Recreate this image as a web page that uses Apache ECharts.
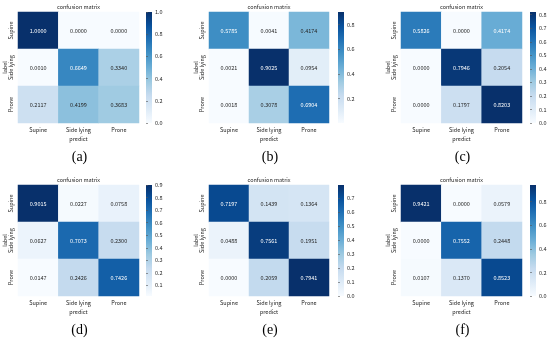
<!DOCTYPE html>
<html><head><meta charset="utf-8">
<script src="https://cdn.jsdelivr.net/npm/echarts@6/dist/echarts.min.js"></script>
<style>html,body{margin:0;padding:0;background:#fff}#c{width:550px;height:341px}</style>
</head><body><div id="c"></div>
<script>
var categories = ["Supine", "Side lying", "Prone"];
var captions = ["(a)", "(b)", "(c)", "(d)", "(e)", "(f)"];
var matA = [[1.0000, 0.0000, 0.0000], [0.0010, 0.6649, 0.3340], [0.2117, 0.4199, 0.3683]];
var matB = [[0.5785, 0.0041, 0.4174], [0.0021, 0.9025, 0.0954], [0.0018, 0.3078, 0.6904]];
var matC = [[0.5826, 0.0000, 0.4174], [0.0000, 0.7946, 0.2054], [0.0000, 0.1797, 0.8203]];
var matD = [[0.9015, 0.0227, 0.0758], [0.0627, 0.7073, 0.2300], [0.0147, 0.2426, 0.7426]];
var matE = [[0.7197, 0.1439, 0.1364], [0.0488, 0.7561, 0.1951], [0.0000, 0.2059, 0.7941]];
var matF = [[0.9421, 0.0000, 0.0579], [0.0000, 0.7552, 0.2448], [0.0107, 0.1370, 0.8523]];
var ticksA = [0.0, 0.2, 0.4, 0.6, 0.8, 1.0];
var ticksB = [0.2, 0.4, 0.6, 0.8];
var ticksC = [0.0, 0.1, 0.2, 0.3, 0.4, 0.5, 0.6, 0.7, 0.8];
var ticksD = [0.1, 0.2, 0.3, 0.4, 0.5, 0.6, 0.7, 0.8, 0.9];
var ticksE = [0.0, 0.1, 0.2, 0.3, 0.4, 0.5, 0.6, 0.7];
var ticksF = [0.0, 0.2, 0.4, 0.6, 0.8];

var mats = [matA, matB, matC, matD, matE, matF];
var ticks = [ticksA, ticksB, ticksC, ticksD, ticksE, ticksF];
var blues = ['#f7fbff', '#deebf7', '#c6dbef', '#9ecae1', '#6baed6', '#4292c6', '#2171b5', '#08519c', '#08306b'];

// layout (pixels)
var panels = [
  {l: 18, t: 12, w: 121, h: 111, cb: 146},
  {l: 209, t: 12, w: 120, h: 111, cb: 338},
  {l: 401, t: 12, w: 121, h: 111, cb: 530},
  {l: 18, t: 185, w: 121, h: 111, cb: 146},
  {l: 209, t: 185, w: 120, h: 111, cb: 338},
  {l: 401, t: 185, w: 121, h: 111, cb: 530}
];
var capY = [157, 157, 157, 330, 330, 330];
var FONT = '"Noto Sans CJK SC", sans-serif';
var FS = 5.5;

function hex2rgb(h) { return [parseInt(h.substr(1,2),16), parseInt(h.substr(3,2),16), parseInt(h.substr(5,2),16)]; }
function cmap(t) {
  t = Math.max(0, Math.min(1, t));
  var p = t * (blues.length - 1), i = Math.min(Math.floor(p), blues.length - 2), f = p - i;
  var a = hex2rgb(blues[i]), b = hex2rgb(blues[i+1]);
  return [0,1,2].map(function(k){ return a[k] + (b[k]-a[k]) * f; });
}
function lum(rgb) {
  var c = rgb.map(function(v){ v /= 255; return v <= 0.03928 ? v/12.92 : Math.pow((v+0.055)/1.055, 2.4); });
  return 0.2126*c[0] + 0.7152*c[1] + 0.0722*c[2];
}
var gradStops = blues.map(function(c, i){ return {offset: i / (blues.length - 1), color: c}; });

var grid = [], xAxis = [], yAxis = [], series = [], visualMap = [], graphic = [];
panels.forEach(function(p, k) {
  var m = mats[k];
  var flat = [].concat.apply([], m);
  var vmin = Math.min.apply(null, flat), vmax = Math.max.apply(null, flat);
  var data = [];
  m.forEach(function(row, r) {
    row.forEach(function(v, c) {
      var L = lum(cmap((v - vmin) / (vmax - vmin)));
      data.push({value: [c, r, v], label: {color: L > 0.408 ? '#262626' : '#ffffff'}});
    });
  });
  // heatmap grid
  grid.push({left: p.l, top: p.t, width: p.w, height: p.h});
  xAxis.push({type: 'category', gridIndex: 2*k, data: categories, position: 'bottom',
    axisLine: {show: false}, axisTick: {show: false}, splitLine: {show: false},
    axisLabel: {fontSize: FS, color: '#262626', fontFamily: FONT, margin: 4},
    name: 'predict', nameLocation: 'middle', nameGap: 13,
    nameTextStyle: {fontSize: FS, color: '#262626', fontFamily: FONT}});
  yAxis.push({type: 'category', gridIndex: 2*k, data: categories, inverse: true,
    axisLine: {show: false}, axisTick: {show: false}, splitLine: {show: false},
    axisLabel: {fontSize: FS, color: '#262626', fontFamily: FONT, rotate: 90, margin: 4},
    name: 'label', nameLocation: 'middle', nameGap: 9, nameRotate: 90,
    nameTextStyle: {fontSize: FS, color: '#262626', fontFamily: FONT}});
  series.push({type: 'heatmap', xAxisIndex: 2*k, yAxisIndex: 2*k, data: data,
    label: {show: true, fontSize: FS, fontFamily: FONT,
      formatter: function(pp){ return pp.value[2].toFixed(4); }},
    itemStyle: {borderWidth: 0}, emphasis: {disabled: true}});
  visualMap.push({type: 'continuous', seriesIndex: k, dimension: 2, min: vmin, max: vmax,
    show: false, inRange: {color: blues}});
  // colorbar gradient
  graphic.push({type: 'rect', shape: {x: p.cb, y: p.t, width: 6, height: p.h}, silent: true,
    style: {fill: new echarts.graphic.LinearGradient(0, 1, 0, 0, gradStops)}});
  // colorbar tick axis
  grid.push({left: p.cb, top: p.t, width: 6, height: p.h});
  xAxis.push({type: 'value', gridIndex: 2*k+1, show: false, min: 0, max: 1});
  yAxis.push({type: 'value', gridIndex: 2*k+1, position: 'right', min: vmin, max: vmax,
    axisLine: {show: false}, splitLine: {show: false},
    axisTick: {show: true, length: 2, lineStyle: {color: '#555', width: 0.6}, customValues: ticks[k]},
    axisLabel: {show: true, fontSize: FS, color: '#262626', fontFamily: FONT, margin: 3,
      customValues: ticks[k], formatter: function(v){ return v.toFixed(1); }}});
  // titles and captions
  graphic.push({type: 'text', x: p.l + p.w/2, y: p.t - 5,
    style: {text: 'confusion matrix', fontSize: FS, fontFamily: FONT, fill: '#262626', textAlign: 'center', textVerticalAlign: 'middle'}});
  graphic.push({type: 'text', x: p.l + p.w/2 + 1, y: capY[k],
    style: {text: captions[k], fontSize: 14, fontFamily: '"Liberation Serif", serif', fill: '#000', textAlign: 'center', textVerticalAlign: 'middle'}});
});

var chart = echarts.init(document.getElementById('c'), null, {renderer: 'canvas'});
chart.setOption({backgroundColor: '#fff', animation: false, grid: grid, xAxis: xAxis, yAxis: yAxis,
  series: series, visualMap: visualMap, graphic: graphic});
</script></body></html>
